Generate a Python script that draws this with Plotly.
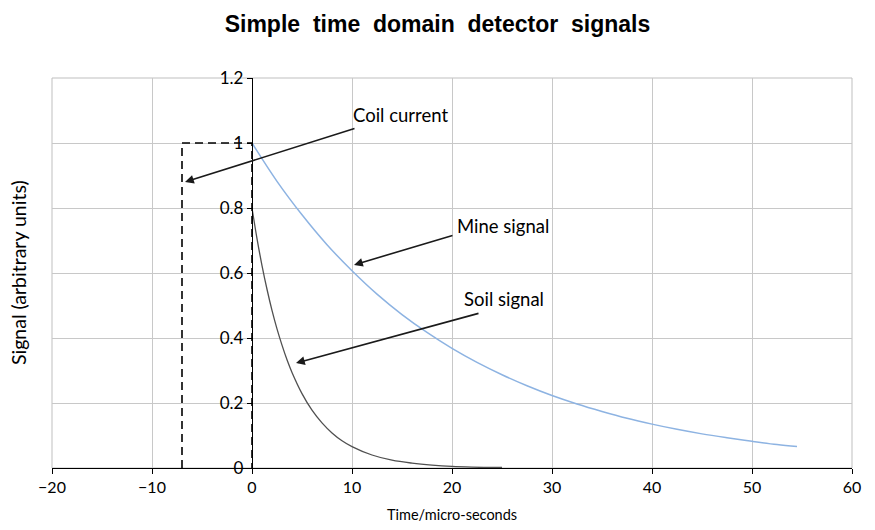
import plotly.graph_objects as go

# Coil current (dashed pulse)
coil_t = [-7, -7, 0, 0]
coil_v = [0, 1, 1, 0]

# Mine signal (slow decay)
mine_t = [0, 2.5, 5, 7.5, 10, 12.5, 15, 17.5, 20, 22.5, 25, 27.5, 30, 32.5, 35,
          37.5, 40, 42.5, 45, 47.5, 50, 52.5, 54.5]
mine_v = [1.0, 0.882, 0.779, 0.687, 0.607, 0.535, 0.472, 0.417, 0.368, 0.325, 0.287,
          0.253, 0.223, 0.197, 0.174, 0.153, 0.135, 0.119, 0.105, 0.093, 0.082, 0.072, 0.066]

# Soil signal (fast decay)
soil_t = [0, 0.5, 1, 1.5, 2, 2.5, 3, 3.5, 4, 5, 6, 7, 8, 9, 10, 12, 14, 16, 18, 20, 22, 25]
soil_v = [0.8, 0.706, 0.623, 0.55, 0.485, 0.428, 0.378, 0.333, 0.294, 0.229, 0.178,
          0.139, 0.108, 0.084, 0.066, 0.04, 0.024, 0.015, 0.009, 0.005, 0.003, 0.0015]

x_ticks = [-20, -10, 0, 10, 20, 30, 40, 50, 60]
y_ticks = [0, 0.2, 0.4, 0.6, 0.8, 1.0, 1.2]
y_tick_text = ["0", "0.2", "0.4", "0.6", "0.8", "1", "1.2"]

font_lbl = "Lato, 'Open Sans', sans-serif"

fig = go.Figure()
fig.add_trace(go.Scatter(x=coil_t, y=coil_v, mode="lines",
                         line=dict(color="#000000", width=1.6, dash="8px,5px"),
                         hoverinfo="skip", showlegend=False))
fig.add_trace(go.Scatter(x=mine_t, y=mine_v, mode="lines", line_shape="spline",
                         line=dict(color="#8db3e2", width=1.5), showlegend=False))
fig.add_trace(go.Scatter(x=soil_t, y=soil_v, mode="lines", line_shape="spline",
                         line=dict(color="#505050", width=1.3), showlegend=False))

arrows = [
    # head x, head y, tail x, tail y
    (-6.7, 0.88, 10.4, 1.046),
    (10.2, 0.625, 20.2, 0.717),
    (4.4, 0.323, 22.8, 0.477),
]
for hx, hy, tx, ty in arrows:
    fig.add_annotation(x=hx, y=hy, ax=tx, ay=ty, xref="x", yref="y", axref="x", ayref="y",
                       text="", showarrow=True, arrowhead=2, arrowsize=1.1, arrowwidth=1.6,
                       arrowcolor="#1a1a1a", standoff=0, startstandoff=0)

labels = [("Coil current", 14.8, 1.085), ("Mine signal", 25.1, 0.745), ("Soil signal", 25.2, 0.52)]
for txt, lx, ly in labels:
    fig.add_annotation(x=lx, y=ly, xref="x", yref="y", text=txt, showarrow=False,
                       font=dict(family=font_lbl, size=18.5, color="#000000"))

# Axis titles
fig.add_annotation(xref="paper", yref="paper", x=-0.0425, y=0.5, text="Signal (arbitrary units)",
                   textangle=-90, showarrow=False, xanchor="center", yanchor="middle",
                   font=dict(family=font_lbl, size=19.5, color="#000000"))
fig.add_annotation(xref="paper", yref="paper", x=0.5, y=-0.12, text="Time/micro-seconds",
                   showarrow=False, xanchor="center", yanchor="middle",
                   font=dict(family=font_lbl, size=14.5, color="#000000"))

# Plot border (grey)
fig.add_shape(type="rect", xref="paper", yref="paper", x0=0, y0=0, x1=1, y1=1,
              line=dict(color="#bfbfbf", width=1), layer="below")

fig.update_layout(
    width=875, height=530,
    margin=dict(l=52, r=23, t=78, b=62),
    paper_bgcolor="white", plot_bgcolor="white",
    title=dict(text="<b>Simple\u00a0 time\u00a0 domain\u00a0 detector\u00a0 signals</b>",
               x=0.5, xanchor="center", y=0.955, yanchor="middle",
               font=dict(family="Liberation Sans, Arial, sans-serif", size=23, color="#000000")),
    xaxis=dict(range=[-20, 60], tickvals=x_ticks, showgrid=True, gridcolor="#c8c8c8",
               gridwidth=1, zeroline=False, showline=True, linecolor="#000000", linewidth=1.3,
               ticks="outside", ticklen=5, tickcolor="#000000",
               tickfont=dict(family=font_lbl, size=16, color="#000000")),
    yaxis=dict(range=[0, 1.2], tickvals=y_ticks, ticktext=y_tick_text, showgrid=True,
               gridcolor="#c8c8c8", gridwidth=1, zeroline=False, showline=True,
               linecolor="#000000", linewidth=1.3, ticks="outside", ticklen=5,
               tickcolor="#000000", anchor="free", position=0.25,
               tickfont=dict(family=font_lbl, size=17, color="#000000")),
)

fig.write_html("out.html")
